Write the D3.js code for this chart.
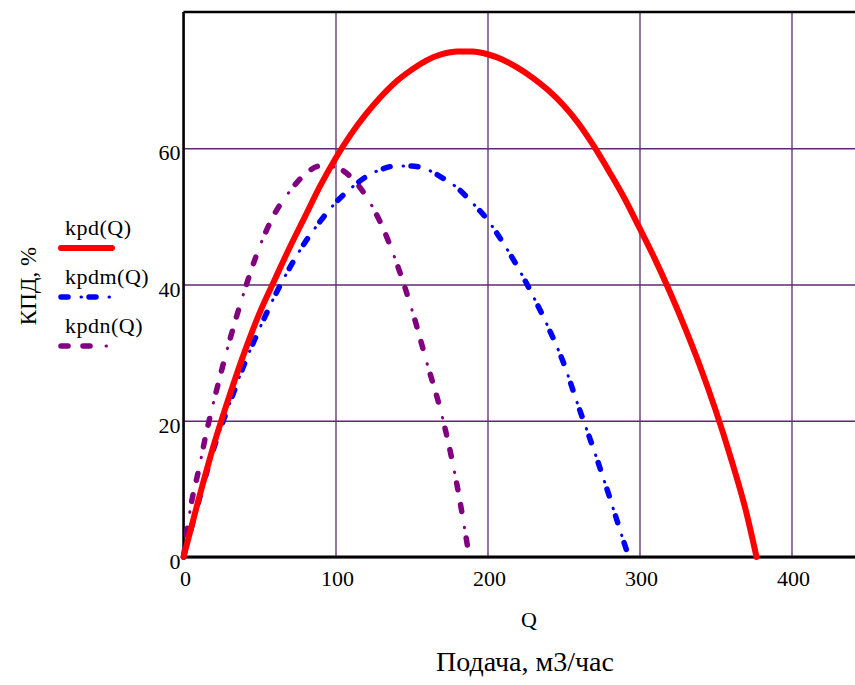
<!DOCTYPE html>
<html>
<head>
<meta charset="utf-8">
<script src="https://cdn.jsdelivr.net/npm/d3@7"></script>
<style>
  body { margin: 0; background: #fff; }
  svg { display: block; font-family: 'Liberation Serif', 'DejaVu Serif', serif; }
</style>
</head>
<body>
<svg width="855" height="685"></svg>
<script>
// kpd(Q)
const qKpd = [0, 10, 20, 30, 40, 50, 60, 70, 80, 90, 100, 110, 120, 130, 140, 150, 160, 170, 180, 190,
    200, 210, 220, 230, 240, 250, 260, 270, 280, 290, 300, 310, 320, 330, 340, 350, 360, 370, 377];
const kpd = [0, 8.5, 16.5, 23.5, 30, 35.8, 40.7, 45.5, 50, 54.5, 58.5, 62, 65, 67.6, 69.8, 71.5, 72.9, 73.8, 74.2, 74.2,
    73.8, 73, 71.8, 70.3, 68.5, 66.3, 63.6, 60.3, 56.6, 52.7, 48.3, 43.8, 38.9, 33.6, 27.9, 21.6, 14.6, 6.8, 0];

// kpdm(Q)
const qKpdm = [0, 10, 20, 30, 40, 50, 60, 70, 80, 90, 100, 110, 120, 130, 140, 150, 160, 170, 180, 190,
    200, 210, 220, 230, 240, 250, 260, 270, 280, 290, 293];
const kpdm = [0, 8.2, 16, 22.3, 28.3, 33.5, 38.3, 42.5, 46.2, 49.3, 52, 54.1, 55.8, 56.9, 57.4, 57.4, 56.9, 55.7, 54.2, 52,
    49.5, 46.2, 42.5, 38.3, 33.7, 28.5, 22, 15.7, 9, 2, 0];

// kpdn(Q)
const qKpdn = [0, 5, 10, 15, 20, 30, 40, 50, 60, 70, 80, 90, 100, 110, 120, 130, 140, 150, 160, 170, 180, 188];
const kpdn = [0, 7.7, 12.8, 18.2, 22.9, 31.5, 39, 45.5, 50.4, 53.7, 56.2, 57.4, 57.2, 55.8, 53, 48.9, 43.3, 36.5, 28.6, 20.8, 10.5, 0];

const xTicks = [0, 100, 200, 300, 400];
const yTicks = [0, 20, 40, 60];
const seriesNames = ['kpd(Q)', 'kpdm(Q)', 'kpdn(Q)'];

const svg = d3.select('svg');
const margin = { top: 12, left: 183.5 };
const innerHeight = 545;

const xScale = d3.scaleLinear().domain([0, 445]).range([0, 445 * 1.52]);
const yScale = d3.scaleLinear().domain([0, 80]).range([innerHeight, 0]);
const innerWidth = xScale(445);

const gridColor = '#5e2a6e';

const g = svg.append('g')
    .attr('transform', `translate(${margin.left}, ${margin.top})`);

// grid (axis lines only, labels are drawn below)
g.append('g')
    .attr('transform', `translate(0, ${innerHeight})`)
    .call(d3.axisBottom(xScale).tickValues(xTicks).tickSize(-innerHeight).tickFormat(''))
    .call(a => a.select('.domain').remove())
    .call(a => a.selectAll('text').remove())
    .selectAll('line').attr('stroke', gridColor).attr('stroke-width', 1.3);

g.append('g')
    .call(d3.axisLeft(yScale).tickValues(yTicks).tickSize(-innerWidth).tickFormat(''))
    .call(a => a.select('.domain').remove())
    .call(a => a.selectAll('text').remove())
    .selectAll('line').attr('stroke', gridColor).attr('stroke-width', 1.3);

// tick labels
g.selectAll('.xlab').data(xTicks).enter().append('text')
    .attr('x', d => xScale(d) + 2)
    .attr('y', innerHeight + 29)
    .attr('text-anchor', 'middle')
    .attr('font-size', 22)
    .text(d => d);

g.selectAll('.ylab').data(yTicks).enter().append('text')
    .attr('x', -3)
    .attr('y', d => yScale(d) + 12)
    .attr('text-anchor', 'end')
    .attr('font-size', 22)
    .text(d => d);

// frame
g.append('line').attr('x1', 0).attr('x2', innerWidth).attr('y1', 0).attr('y2', 0)
    .attr('stroke', '#000').attr('stroke-width', 2.5);
g.append('line').attr('x1', 0).attr('x2', 0).attr('y1', 0).attr('y2', innerHeight)
    .attr('stroke', '#000').attr('stroke-width', 2.5);
g.append('line').attr('x1', 0).attr('x2', innerWidth).attr('y1', innerHeight).attr('y2', innerHeight)
    .attr('stroke', '#000').attr('stroke-width', 3);

// curves
const line = d3.line()
    .x(d => xScale(d[0]))
    .y(d => yScale(d[1]))
    .curve(d3.curveMonotoneX);

const styles = [
    { color: '#ff0000', parts: [{ w: 6, dash: null, off: 0 }] },
    { color: '#0000ff', parts: [{ w: 5.5, dash: '7 21', off: 0 }, { w: 3, dash: '0.5 27.5', off: 8 }] },
    { color: '#800080', parts: [{ w: 5.5, dash: '7 15 7 27', off: 0 }, { w: 3, dash: '0.5 55.5', off: 11 }] }
];

const series = [
    d3.zip(qKpd, kpd),
    d3.zip(qKpdm, kpdm),
    d3.zip(qKpdn, kpdn)
];

const plot = g.append('g');
// purple, blue, then red on top
[2, 1, 0].forEach(i => {
    styles[i].parts.forEach(p => {
        plot.append('path')
            .datum(series[i])
            .attr('d', line)
            .attr('fill', 'none')
            .attr('stroke', styles[i].color)
            .attr('stroke-width', p.w)
            .attr('stroke-linecap', 'round')
            .attr('stroke-linejoin', 'round')
            .attr('stroke-dasharray', p.dash)
            .attr('stroke-dashoffset', p.off);
    });
});

// axis titles
svg.append('text')
    .attr('x', 529).attr('y', 627)
    .attr('text-anchor', 'middle')
    .attr('font-size', 22)
    .text('Q');

svg.append('text')
    .attr('x', 525).attr('y', 671)
    .attr('text-anchor', 'middle')
    .attr('font-size', 28)
    .text('Подача, м3/час');

svg.append('text')
    .attr('transform', 'translate(36, 286) rotate(-90)')
    .attr('text-anchor', 'middle')
    .attr('font-size', 23)
    .text('КПД, %');

// legend
const legend = svg.append('g');
seriesNames.forEach((name, i) => {
    const y0 = 235 + i * 49;
    legend.append('text')
        .attr('x', 65).attr('y', y0)
        .attr('font-size', 22)
        .attr('letter-spacing', 0.5)
        .text(name);
    styles[i].parts.forEach(p => {
        legend.append('line')
            .attr('x1', 61).attr('x2', 112)
            .attr('y1', y0 + 13).attr('y2', y0 + 13)
            .attr('stroke', styles[i].color)
            .attr('stroke-width', p.w)
            .attr('stroke-linecap', 'round')
            .attr('stroke-dasharray', p.dash)
            .attr('stroke-dashoffset', p.off);
    });
});
</script>
</body>
</html>
